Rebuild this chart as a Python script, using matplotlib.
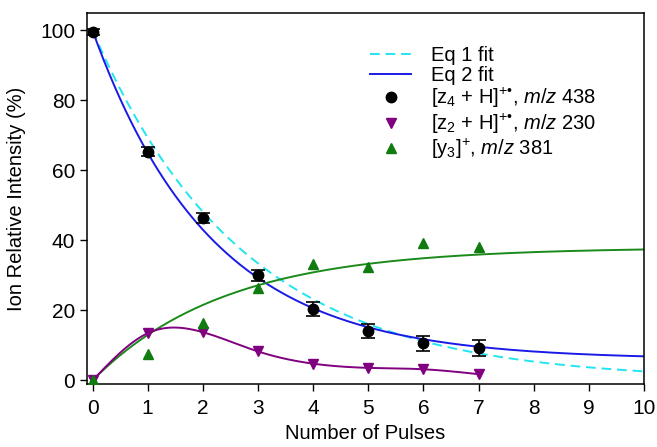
# -*- coding: utf-8 -*-
"""
Output: out.png
Ion relative intensity vs number of pulses, with kinetic fits
"""

### 0 ### Imports and settings

import numpy as np
import matplotlib
matplotlib.use("Agg")
import matplotlib.pyplot as plt
from matplotlib.lines import Line2D

plt.rcParams['font.family'] = ['Liberation Sans', 'DejaVu Sans']
plt.rcParams['mathtext.fontset'] = 'custom'
plt.rcParams['mathtext.rm'] = 'Liberation Sans'
plt.rcParams['mathtext.it'] = 'Liberation Sans:italic'
plt.rcParams['savefig.facecolor'] = 'white'

# data
pulses = [0, 1, 2, 3, 4, 5, 6, 7]
z4_438 = [99.5, 65.4, 46.5, 30.0, 20.4, 14.1, 10.6, 9.3]
z4_err = [0.8, 1.3, 1.4, 1.7, 2.0, 2.1, 2.2, 2.2]
z2_230 = [0.0, 13.5, 13.8, 8.3, 4.8, 3.6, 3.2, 1.8]
y3_381 = [0.0, 7.5, 16.3, 26.5, 33.2, 32.5, 39.3, 38.0]

# fit parameters (estimated from the drawn curves)
eq1_k = 0.365                           # 100*exp(-k t)
eq2_a, eq2_k, eq2_c = 94.0, 0.465, 6.0  # a*exp(-k t) + c
y3_a, y3_k = 38.0, 0.419                # a*(1 - exp(-k t))


def natural_spline(x, y, xs):
    # natural cubic spline through the points (smooth connector line)
    x = np.asarray(x, float)
    y = np.asarray(y, float)
    n = len(x)
    h = np.diff(x)
    A = np.zeros((n, n))
    b = np.zeros(n)
    A[0, 0] = A[-1, -1] = 1
    for i in range(1, n - 1):
        A[i, i - 1] = h[i - 1]
        A[i, i] = 2 * (h[i - 1] + h[i])
        A[i, i + 1] = h[i]
        b[i] = 3 * ((y[i + 1] - y[i]) / h[i] - (y[i] - y[i - 1]) / h[i - 1])
    c = np.linalg.solve(A, b)
    out = np.empty_like(xs)
    for j, t in enumerate(xs):
        i = min(np.searchsorted(x, t, side='right') - 1, n - 2)
        i = max(i, 0)
        bi = (y[i + 1] - y[i]) / h[i] - h[i] * (2 * c[i] + c[i + 1]) / 3
        di = (c[i + 1] - c[i]) / (3 * h[i])
        dx = t - x[i]
        out[j] = y[i] + bi * dx + c[i] * dx ** 2 + di * dx ** 3
    return out


### 1 ### Figure

fig = plt.figure(figsize=(6.57, 4.47), dpi=100)
ax = fig.add_axes([0.1324, 0.141, 0.848, 0.830])

t = np.linspace(0, 10, 400)
t7 = np.linspace(0, 7, 300)

ax.plot(t, 100 * np.exp(-eq1_k * t), color='#22e5f0', lw=1.4, ls=(0, (5, 3)), zorder=2)
ax.plot(t, eq2_a * np.exp(-eq2_k * t) + eq2_c, color='#1a1ae6', lw=1.4, zorder=2)
ax.plot(t, y3_a * (1 - np.exp(-y3_k * t)), color='#1a8a1a', lw=1.4, zorder=2)
ax.plot(t7, natural_spline(pulses, z2_230, t7), color='#800080', lw=1.4, zorder=2)

ax.errorbar(pulses, z4_438, yerr=z4_err, fmt='o', color='black', ms=7.5,
            capsize=5, elinewidth=1.2, capthick=1.2, zorder=4)
ax.plot(pulses, z2_230, 'v', color='#800080', ms=7.5, zorder=4)
ax.plot(pulses, y3_381, '^', color='#107c10', ms=7.5, zorder=4)

ax.set_xlim(-0.1, 10)
ax.set_ylim(-1, 105)
ax.set_xticks(range(0, 11))
ax.set_yticks(range(0, 101, 20))
ax.tick_params(direction='out', length=5, width=1, labelsize=15)
ax.tick_params(axis='x', pad=6)
for s in ax.spines.values():
    s.set_linewidth(1.1)

ax.set_xlabel('Number of Pulses', fontsize=14.5, labelpad=4)
ax.set_ylabel('Ion Relative Intensity (%)', fontsize=14.5, labelpad=10)

handles = [
    Line2D([], [], color='#22e5f0', lw=1.4, ls=(0, (5, 3))),
    Line2D([], [], color='#1a1ae6', lw=1.4),
    Line2D([], [], color='black', marker='o', ls='none', ms=7.5),
    Line2D([], [], color='#800080', marker='v', ls='none', ms=7.5),
    Line2D([], [], color='#107c10', marker='^', ls='none', ms=7.5),
]
labels = [
    'Eq 1 fit',
    'Eq 2 fit',
    '[z$_4$ + H]$^{+•}$, $m/z$ 438',
    '[z$_2$ + H]$^{+•}$, $m/z$ 230',
    '[y$_3$]$^{+}$, $m/z$ 381',
]
ax.legend(handles, labels, loc='upper left', bbox_to_anchor=(0.508, 0.91),
          frameon=False, fontsize=14.5, handlelength=2.05, handletextpad=1.0,
          labelspacing=0.05, borderpad=0, borderaxespad=0)

### 2 ### Save
fig.savefig('out.png', dpi=100)
